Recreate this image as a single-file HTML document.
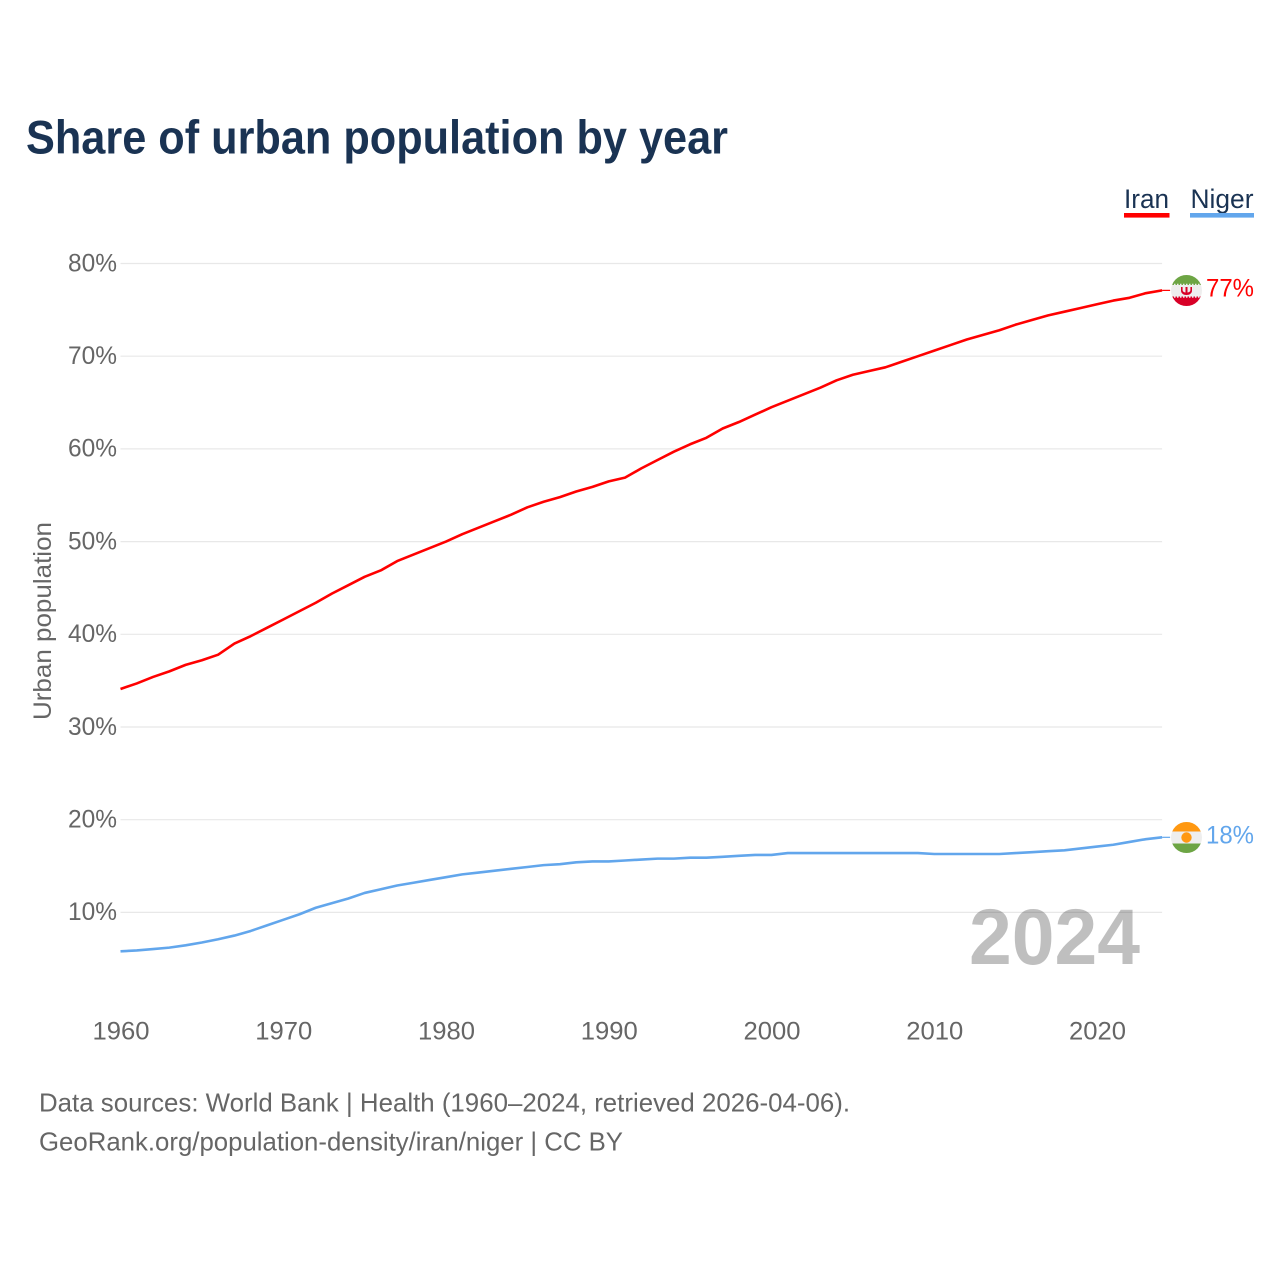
<!DOCTYPE html>
<html lang="en">
<head>
<meta charset="utf-8">
<title>Share of urban population by year</title>
<style>
html,body{margin:0;padding:0;background:#fff;width:1280px;height:1280px;overflow:hidden}
svg{display:block}
text{font-family:"Liberation Sans",sans-serif}
</style>
</head>
<body>
<svg id="chart" xmlns="http://www.w3.org/2000/svg" width="1280" height="1280" viewBox="0 0 1280 1280">
  <defs>
    <clipPath id="clip-iran"><circle cx="1186.5" cy="290.5" r="15.5"/></clipPath>
    <clipPath id="clip-niger"><circle cx="1186.5" cy="837.5" r="15.5"/></clipPath>
  </defs>
  <rect width="1280" height="1280" fill="#fff"/>
  <text x="26" y="153.500" font-size="47.500" font-weight="700" fill="#1a3353" textLength="702" lengthAdjust="spacingAndGlyphs">Share of urban population by year</text>

  <g>
    <text x="1124" y="208" font-size="27" fill="#1a3353" textLength="45" lengthAdjust="spacingAndGlyphs">Iran</text>
    <rect x="1124" y="213" width="45.5" height="4.6" fill="#ff0000"/>
  </g>
  <g>
    <text x="1190.5" y="208" font-size="27" fill="#1a3353" textLength="63" lengthAdjust="spacingAndGlyphs">Niger</text>
    <rect x="1190" y="213" width="64" height="4.6" fill="#62a6ec"/>
  </g>

  <g id="grid"></g>
  <g id="yticks"></g>
  <g id="xticks"></g>
  <text transform="translate(51,621) rotate(-90)" text-anchor="middle" font-size="25" fill="#666" textLength="198" lengthAdjust="spacingAndGlyphs">Urban population</text>

  <text x="1140" y="964" text-anchor="end" font-size="79" font-weight="700" fill="#000" fill-opacity="0.25" textLength="171" lengthAdjust="spacingAndGlyphs">2024</text>

  <g id="series"></g>

  <g clip-path="url(#clip-iran)">
    <rect x="1171" y="275" width="31" height="31" fill="#eeeeee"/>
    <rect x="1171" y="275" width="31" height="10" fill="#6da544"/>
    <rect x="1171" y="296.500" width="31" height="10" fill="#d80027"/>
    <line x1="1171" x2="1202" y1="284.500" y2="284.500" stroke="#eeeeee" stroke-width="1.500" stroke-dasharray="1.500 1.500"/>
    <line x1="1171" x2="1202" y1="297" y2="297" stroke="#eeeeee" stroke-width="1.500" stroke-dasharray="1.500 1.500"/>
    <path d="M1181 287v3.500c0 2.800 2.300 4.500 5.500 4.500s5.500-1.700 5.500-4.500v-3.500h-1.600v3c0 1.500-1.300 2.300-2.900 2.500v-5.500h-2v5.500c-1.600-.2-2.900-1-2.900-2.500v-3z" fill="#d80027"/>
  </g>
  <g clip-path="url(#clip-niger)">
    <rect x="1171" y="822" width="31" height="31" fill="#eeeeee"/>
    <rect x="1171" y="822" width="31" height="9.500" fill="#ff9811"/>
    <rect x="1171" y="843.500" width="31" height="10" fill="#6da544"/>
    <circle cx="1186.5" cy="837.500" r="5.200" fill="#ff9811"/>
  </g>
  <text x="1206" y="296.500" font-size="25" fill="#ff0000" textLength="48" lengthAdjust="spacingAndGlyphs">77%</text>
  <text x="1206" y="843.500" font-size="25" fill="#62a6ec" textLength="48" lengthAdjust="spacingAndGlyphs">18%</text>

  <text x="39" y="1111.500" font-size="26" fill="#666" textLength="811" lengthAdjust="spacingAndGlyphs">Data sources: World Bank | Health (1960–2024, retrieved 2026-04-06).</text>
  <text x="39" y="1150.500" font-size="26" fill="#666" textLength="584" lengthAdjust="spacingAndGlyphs">GeoRank.org/population-density/iran/niger | CC BY</text>
</svg>
<script>
const years = [];
for (let yr = 1960; yr <= 2024; yr++) years.push(yr);
const iranValues = [34.1,34.7,35.4,36.0,36.7,37.2,37.8,39.0,39.8,40.7,41.6,42.5,43.4,44.4,45.3,46.2,46.9,47.9,48.6,49.3,50.0,50.8,51.5,52.2,52.9,53.7,54.3,54.8,55.4,55.9,56.5,56.9,57.9,58.8,59.7,60.5,61.2,62.2,62.9,63.7,64.5,65.2,65.9,66.6,67.4,68.0,68.4,68.8,69.4,70.0,70.6,71.2,71.8,72.3,72.8,73.4,73.9,74.4,74.8,75.2,75.6,76.0,76.3,76.8,77.1];
const nigerValues = [5.8,5.9,6.05,6.2,6.45,6.75,7.1,7.5,8.0,8.6,9.2,9.8,10.5,11.0,11.5,12.1,12.5,12.9,13.2,13.5,13.8,14.1,14.3,14.5,14.7,14.9,15.1,15.2,15.4,15.5,15.5,15.6,15.7,15.8,15.8,15.9,15.9,16.0,16.1,16.2,16.2,16.4,16.4,16.4,16.4,16.4,16.4,16.4,16.4,16.4,16.3,16.3,16.3,16.3,16.3,16.4,16.5,16.6,16.7,16.9,17.1,17.3,17.6,17.9,18.1];
const yTickValues = [10,20,30,40,50,60,70,80];
const xTickValues = [1960,1970,1980,1990,2000,2010,2020];

const NS = 'http://www.w3.org/2000/svg';
function xScale(year) { return 120.5 + (year - 1960) * 16.275; }
function yScale(value) { return 912.4 - (value - 10) * 9.27; }
function make(tag, parent) {
  const el = document.createElementNS(NS, tag);
  parent.appendChild(el);
  return el;
}

const gridGroup = document.getElementById('grid');
const yGroup = document.getElementById('yticks');
yTickValues.forEach(function (v) {
  const line = make('line', gridGroup);
  
  
  line.setAttribute('x1', xScale(1960));
  line.setAttribute('x2', xScale(2024));
  line.setAttribute('y1', yScale(v));
  line.setAttribute('y2', yScale(v));
  line.setAttribute('stroke', '#e8e8e8');
  line.setAttribute('stroke-width', '1.2');
  const label = make('text', yGroup);
  
  
  label.setAttribute('x', 117);
  label.setAttribute('y', yScale(v) + 7.8);
  label.setAttribute('text-anchor', 'end');
  label.setAttribute('font-size', '25');
  label.setAttribute('fill', '#666');
  label.setAttribute('textLength', '49');
  label.setAttribute('lengthAdjust', 'spacingAndGlyphs');
  label.textContent = v + '%';
});

const xGroup = document.getElementById('xticks');
xTickValues.forEach(function (yr) {
  const label = make('text', xGroup);
  
  
  label.setAttribute('x', xScale(yr) + 0.5);
  label.setAttribute('y', 1039.5);
  label.setAttribute('text-anchor', 'middle');
  label.setAttribute('font-size', '25');
  label.setAttribute('fill', '#666');
  label.setAttribute('textLength', '57');
  label.setAttribute('lengthAdjust', 'spacingAndGlyphs');
  label.textContent = yr;
});

const seriesGroup = document.getElementById('series');
function drawSeries(name, values, color) {
  const pts = values.map(function (v, i) { return xScale(years[i]).toFixed(2) + ',' + yScale(v).toFixed(2); });
  const path = make('polyline', seriesGroup);
  
  
  path.setAttribute('points', pts.join(' '));
  path.setAttribute('fill', 'none');
  path.setAttribute('stroke', color);
  path.setAttribute('stroke-width', '2.6');
  path.setAttribute('stroke-linejoin', 'round');
  const last = values[values.length - 1];
  const tail = make('line', seriesGroup);
  
  
  tail.setAttribute('x1', xScale(2024));
  tail.setAttribute('x2', xScale(2024) + 8);
  tail.setAttribute('y1', yScale(last));
  tail.setAttribute('y2', yScale(last));
  tail.setAttribute('stroke', color);
  tail.setAttribute('stroke-width', '1.2');
}
drawSeries('iran', iranValues, '#ff0000');
drawSeries('niger', nigerValues, '#62a6ec');
</script>
</body>
</html>
